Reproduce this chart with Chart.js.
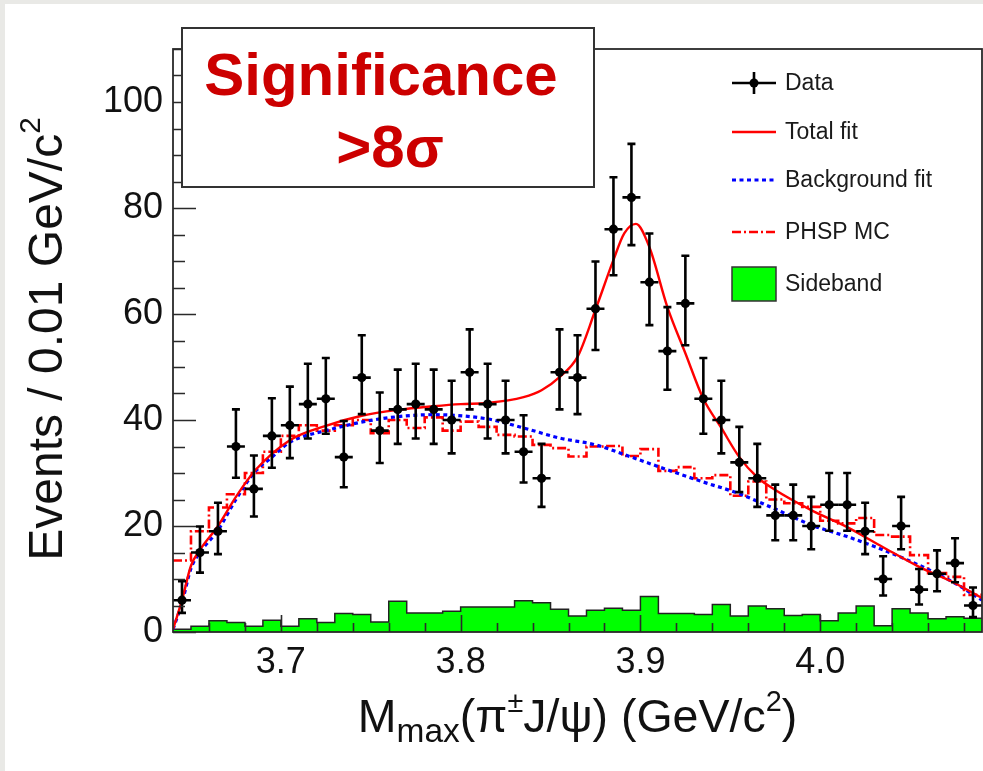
<!DOCTYPE html>
<html>
<head>
<meta charset="utf-8">
<script src="https://cdn.jsdelivr.net/npm/chart.js@4.4.1/dist/chart.umd.min.js"></script>
<style>
  html, body { margin: 0; padding: 0; background: #fff; }
  #wrap { width: 983px; height: 771px; }
</style>
</head>
<body>
<div id="wrap"><canvas id="massChart" width="983" height="771"></canvas></div>
<script>
// M_max(pi J/psi) spectrum, 0.01 GeV/c^2 bins from 3.64 to 4.09
const binLow = 3.64;
const binWidth = 0.01;

const dataCounts = [6, 15, 19, 35, 27, 37, 39, 43, 44, 33, 48, 38, 42, 43, 42,
  40, 49, 43, 40, 34, 29, 49, 48, 61, 76, 82, 66, 53, 62, 44,
  40, 32, 29, 22, 22, 20, 24, 24, 19, 10, 20, 8, 11, 13, 5];
const errLow = [2.4, 3.8, 4.3, 5.9, 5.2, 6.0, 6.2, 6.5, 6.6, 5.7, 6.9, 6.1, 6.5, 6.5, 6.5,
  6.3, 7.0, 6.5, 6.3, 5.8, 5.4, 7.0, 6.9, 7.8, 8.7, 9.0, 8.1, 7.3, 7.9, 6.6,
  6.3, 5.6, 5.4, 4.7, 4.7, 4.4, 4.9, 4.9, 4.3, 3.1, 4.4, 2.8, 3.3, 3.6, 2.2];
const errHigh = [3.6, 4.9, 5.4, 7.0, 6.3, 7.1, 7.3, 7.6, 7.7, 6.8, 8.0, 7.2, 7.5, 7.6, 7.5,
  7.4, 8.1, 7.6, 7.4, 6.9, 6.5, 8.1, 8.0, 8.9, 9.8, 10.1, 9.2, 8.3, 9.0, 7.7,
  7.4, 6.7, 6.5, 5.8, 5.8, 5.5, 6.0, 6.0, 5.4, 4.3, 5.5, 3.9, 4.4, 4.7, 3.4];

const sidebandCounts = [0.5, 1.1, 2.1, 1.8, 1.1, 2.2, 1.1, 2.5, 1.8, 3.5, 3.3, 1.9, 5.8, 3.6, 3.6,
  3.9, 4.7, 4.7, 4.7, 5.9, 5.5, 4.3, 3.0, 4.1, 4.5, 4.1, 6.7, 3.5, 3.5, 3.3,
  5.2, 3.0, 4.9, 4.4, 3.1, 3.3, 2.1, 3.6, 4.9, 1.2, 4.4, 3.6, 2.5, 2.9, 2.6];

const phspCounts = [13.5, 19, 23.5, 26, 30, 34, 37, 39, 38, 39, 40, 37.5, 40, 38.5, 40.5,
  38, 39.7, 38.7, 37.2, 36.9, 35.3, 34.7, 33.1, 35, 35.1, 33.2, 34.5, 30.4, 31.1, 29,
  29.6, 25.7, 28.4, 25, 24.3, 23.6, 21, 20.5, 21.5, 18.3, 18, 14.5, 11.1, 10.4, 7];

const totalFitX = [3.640, 3.645, 3.650, 3.655, 3.665, 3.675, 3.686, 3.705, 3.725, 3.745,
  3.765, 3.785, 3.800, 3.815, 3.835, 3.845, 3.855, 3.865, 3.875, 3.885,
  3.891, 3.8975, 3.905, 3.915, 3.925, 3.935, 3.945, 3.955, 3.965, 3.975,
  3.995, 4.015, 4.035, 4.055, 4.075, 4.090];
const totalFitY = [0.5, 6, 12.5, 15.5, 20, 25.5, 30.6, 36.2, 38.9, 40.8,
  41.9, 42.6, 43, 43.2, 44.3, 45.6, 48.1, 51.9, 60.8, 70.2,
  75.2, 77, 72.6, 61.3, 52.6, 44, 38.5, 33, 29.2, 26.8,
  23, 19.8, 16, 12.3, 9.2, 6.4];

const bkgFitX = [3.640, 3.645, 3.650, 3.655, 3.665, 3.675, 3.685, 3.695, 3.705, 3.725,
  3.755, 3.785, 3.815, 3.835, 3.855, 3.875, 3.895, 3.915, 3.935, 3.954,
  3.975, 3.995, 4.015, 4.035, 4.055, 4.075, 4.090];
const bkgFitY = [0.5, 5.5, 12, 15, 19.2, 25, 30, 33, 35.8, 38,
  40.2, 41, 40.2, 38.5, 36.6, 35.3, 33, 30.6, 28.3, 26.2,
  23.2, 20.2, 18, 15.5, 12.6, 9.2, 6];

const xTickValues = [3.7, 3.8, 3.9, 4.0];
const yTickValues = [0, 20, 40, 60, 80, 100];
const xMinorStep = 0.02;
const yMinorStep = 5;

const FONT = '"Liberation Sans", Arial, Helvetica, sans-serif';
const DATA_INDEX = 4;

const binCenters = dataCounts.map((_, i) => binLow + (i + 0.5) * binWidth);

// histogram outline: one point per low edge plus the last high edge
function stepPoints(values) {
  const pts = values.map((v, i) => ({ x: binLow + i * binWidth, y: v }));
  pts.push({ x: binLow + values.length * binWidth, y: values[values.length - 1] });
  return pts;
}

const paper = {
  id: 'paper',
  beforeDraw(chart) {
    const { ctx, width, height } = chart;
    ctx.save();
    ctx.fillStyle = '#fff';
    ctx.fillRect(0, 0, width, height);
    ctx.fillStyle = '#e9e9e6';
    ctx.fillRect(0, 0, 5, height);
    ctx.fillRect(0, 0, width, 4);
    ctx.restore();
  }
};

const errorBars = {
  id: 'errorBars',
  beforeDatasetDraw(chart, args) {
    if (args.index !== DATA_INDEX) return;
    const { ctx, scales: { x, y } } = chart;
    ctx.save();
    ctx.strokeStyle = '#000';
    ctx.lineWidth = 2.6;
    dataCounts.forEach((n, i) => {
      const c = binCenters[i];
      const px = x.getPixelForValue(c);
      const py = y.getPixelForValue(n);
      const top = y.getPixelForValue(n + errHigh[i]);
      const bot = y.getPixelForValue(Math.max(n - errLow[i], 0));
      const left = x.getPixelForValue(c - binWidth / 2);
      const right = Math.min(x.getPixelForValue(c + binWidth / 2), chart.chartArea.right);
      ctx.beginPath();
      ctx.moveTo(px, top); ctx.lineTo(px, bot);
      ctx.moveTo(left, py); ctx.lineTo(right, py);
      ctx.moveTo(px - 4, top); ctx.lineTo(px + 4, top);
      ctx.moveTo(px - 4, bot); ctx.lineTo(px + 4, bot);
      ctx.stroke();
    });
    ctx.restore();
  }
};

// frame and inward tick marks
const frame = {
  id: 'frame',
  afterDatasetsDraw(chart) {
    const { ctx, chartArea: a, scales: { x, y } } = chart;
    ctx.save();
    ctx.strokeStyle = '#2a2a2a';
    ctx.lineWidth = 1.6;
    ctx.beginPath();
    for (let v = 0; v <= y.max + 1e-6; v += yMinorStep) {
      const py = Math.round(y.getPixelForValue(v)) + 0.5;
      const len = yTickValues.includes(v) ? 23 : 12;
      ctx.moveTo(a.left, py); ctx.lineTo(a.left + len, py);
    }
    for (let v = 3.66; v <= x.max + 1e-6; v += xMinorStep) {
      const px = Math.round(x.getPixelForValue(v)) + 0.5;
      const major = xTickValues.some(t => Math.abs(t - v) < 1e-6);
      ctx.moveTo(px, a.bottom); ctx.lineTo(px, a.bottom - (major ? 17 : 9));
    }
    ctx.stroke();
    ctx.lineWidth = 1.8;
    ctx.strokeRect(a.left, a.top, a.right - a.left, a.bottom - a.top);
    ctx.restore();
  }
};

function drawPieces(ctx, pieces, size, bold) {
  let w = 0;
  pieces.forEach(p => {
    ctx.font = (bold ? 'bold ' : '') + (size * (p.s || 1)) + 'px ' + FONT;
    p.w = ctx.measureText(p.t).width;
    w += p.w;
  });
  let x = -w / 2;
  pieces.forEach(p => {
    ctx.font = (bold ? 'bold ' : '') + (size * (p.s || 1)) + 'px ' + FONT;
    ctx.fillText(p.t, x, (p.dy || 0) * size);
    x += p.w;
  });
}

const titles = {
  id: 'titles',
  afterDraw(chart) {
    const { ctx, chartArea: a } = chart;
    ctx.save();
    ctx.fillStyle = '#111';
    ctx.textBaseline = 'alphabetic';
    ctx.textAlign = 'left';
    // x title
    ctx.save();
    ctx.translate((a.left + a.right) / 2, 732);
    drawPieces(ctx, [
      { t: 'M' }, { t: 'max', s: 0.72, dy: 0.22 }, { t: '(\u03c0' },
      { t: '\u00b1', s: 0.62, dy: -0.42 }, { t: 'J/\u03c8) (GeV/c' },
      { t: '2', s: 0.62, dy: -0.45 }, { t: ')' }
    ], 46.5, false);
    ctx.restore();
    // y title
    ctx.save();
    ctx.translate(62, 339);
    ctx.rotate(-Math.PI / 2);
    drawPieces(ctx, [
      { t: 'Events / 0.01 GeV/c' }, { t: '2', s: 0.62, dy: -0.45 }
    ], 48, false);
    ctx.restore();
    ctx.restore();
  }
};

const significance = {
  id: 'significance',
  afterDraw(chart) {
    const { ctx } = chart;
    ctx.save();
    ctx.fillStyle = '#fff';
    ctx.fillRect(182, 28, 412, 159);
    ctx.strokeStyle = '#333';
    ctx.lineWidth = 2;
    ctx.strokeRect(182, 28, 412, 159);
    ctx.fillStyle = '#cc0000';
    ctx.textAlign = 'left';
    ctx.textBaseline = 'alphabetic';
    ctx.save();
    ctx.translate(381, 95);
    drawPieces(ctx, [{ t: 'Significance' }], 60, true);
    ctx.restore();
    ctx.save();
    ctx.translate(390, 167);
    drawPieces(ctx, [{ t: '>8' }, { t: '\u03c3', s: 0.95 }], 60, true);
    ctx.restore();
    ctx.restore();
  }
};

const legendBox = {
  id: 'legendBox',
  afterDraw(chart) {
    const { ctx } = chart;
    const x0 = 732, x1 = 776, tx = 785;
    const rows = [83, 132, 180, 232, 284];
    const labels = ['Data', 'Total fit', 'Background fit', 'PHSP MC', 'Sideband'];
    ctx.save();
    // data
    ctx.strokeStyle = '#000';
    ctx.lineWidth = 2.6;
    ctx.beginPath();
    ctx.moveTo(x0, rows[0]); ctx.lineTo(x1, rows[0]);
    ctx.moveTo((x0 + x1) / 2, rows[0] - 11); ctx.lineTo((x0 + x1) / 2, rows[0] + 11);
    ctx.stroke();
    ctx.fillStyle = '#000';
    ctx.beginPath(); ctx.arc((x0 + x1) / 2, rows[0], 4.5, 0, Math.PI * 2); ctx.fill();
    // fitted lines: legend row -> dataset index
    [[1, 3], [2, 2], [3, 1]].forEach(([r, di]) => {
      const ds = chart.data.datasets[di];
      ctx.strokeStyle = ds.borderColor;
      ctx.lineWidth = ds.borderWidth;
      ctx.setLineDash(ds.borderDash || []);
      ctx.beginPath();
      ctx.moveTo(x0, rows[r]); ctx.lineTo(x1, rows[r]);
      ctx.stroke();
    });
    ctx.setLineDash([]);
    // sideband
    ctx.fillStyle = '#00ff00';
    ctx.fillRect(x0, rows[4] - 17, x1 - x0, 34);
    ctx.strokeStyle = '#333';
    ctx.lineWidth = 1.5;
    ctx.strokeRect(x0, rows[4] - 17, x1 - x0, 34);
    // text
    ctx.fillStyle = '#1a1a1a';
    ctx.font = '23px ' + FONT;
    ctx.textBaseline = 'middle';
    labels.forEach((t, i) => ctx.fillText(t, tx, rows[i] + 1));
    ctx.restore();
  }
};

new Chart(document.getElementById('massChart'), {
  type: 'scatter',
  data: {
    datasets: [
      {
        label: 'Sideband',
        type: 'line',
        data: stepPoints(sidebandCounts),
        stepped: 'before',
        fill: 'origin',
        backgroundColor: '#00ff00',
        borderColor: '#222',
        borderWidth: 1.5,
        pointRadius: 0,
        order: 5
      },
      {
        label: 'PHSP MC',
        type: 'line',
        data: stepPoints(phspCounts),
        stepped: 'before',
        fill: false,
        borderColor: '#ff0000',
        borderWidth: 2.6,
        borderDash: [9, 3, 2, 3],
        pointRadius: 0,
        order: 4
      },
      {
        label: 'Background fit',
        type: 'line',
        data: bkgFitX.map((x, i) => ({ x, y: bkgFitY[i] })),
        cubicInterpolationMode: 'monotone',
        fill: false,
        borderColor: '#0000ff',
        borderWidth: 3.2,
        borderDash: [4, 3.5],
        pointRadius: 0,
        order: 3
      },
      {
        label: 'Total fit',
        type: 'line',
        data: totalFitX.map((x, i) => ({ x, y: totalFitY[i] })),
        cubicInterpolationMode: 'monotone',
        fill: false,
        borderColor: '#ff0000',
        borderWidth: 2.4,
        pointRadius: 0,
        order: 2
      },
      {
        label: 'Data',
        data: binCenters.map((x, i) => ({ x, y: dataCounts[i] })),
        pointRadius: 4.6,
        pointBackgroundColor: '#000',
        pointBorderColor: '#000',
        pointBorderWidth: 0,
        order: 1
      }
    ]
  },
  options: {
    responsive: false,
    animation: false,
    events: [],
    layout: { autoPadding: false, padding: { top: 49, right: 1, left: 0, bottom: 0 } },
    plugins: {
      legend: { display: false },
      tooltip: { enabled: false }
    },
    scales: {
      x: {
        type: 'linear',
        min: 3.64,
        max: 4.09,
        afterBuildTicks: s => { s.ticks = xTickValues.map(v => ({ value: v })); },
        afterFit: s => { s.height = 139; s.paddingLeft = 0; s.paddingRight = 0; },
        grid: { display: false, drawTicks: false },
        border: { display: false },
        ticks: {
          callback: v => v.toFixed(1),
          font: { family: FONT, size: 36 },
          color: '#111',
          padding: 9,
          maxRotation: 0
        }
      },
      y: {
        type: 'linear',
        min: 0,
        max: 110,
        afterBuildTicks: s => { s.ticks = yTickValues.map(v => ({ value: v })); },
        afterFit: s => { s.width = 173; s.paddingTop = 0; s.paddingBottom = 0; },
        grid: { display: false, drawTicks: false },
        border: { display: false },
        ticks: {
          font: { family: FONT, size: 36 },
          color: '#111',
          padding: 10
        }
      }
    }
  },
  plugins: [paper, errorBars, frame, titles, significance, legendBox]
});
</script>
</body>
</html>
